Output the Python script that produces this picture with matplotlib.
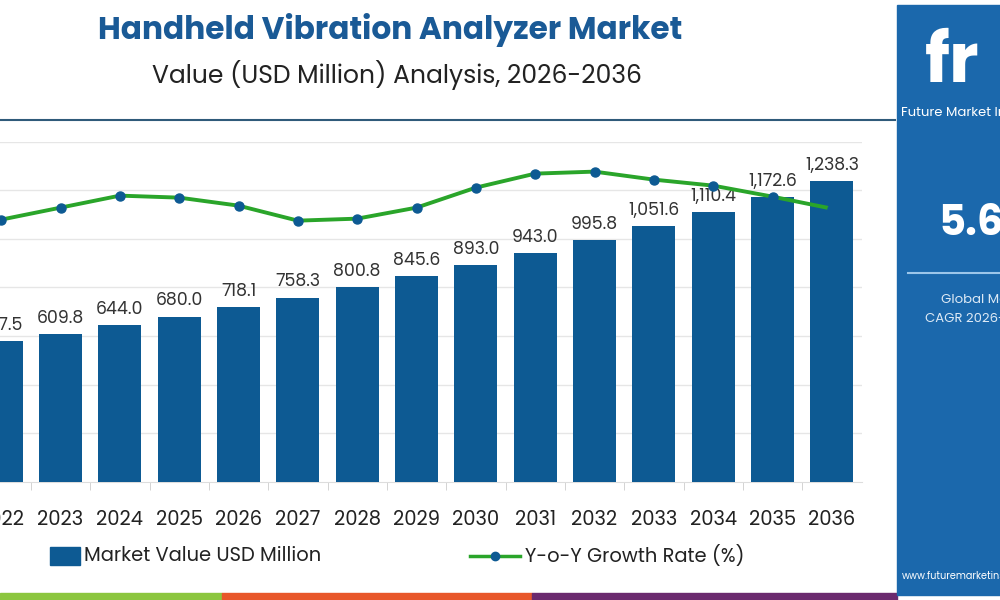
import matplotlib
matplotlib.use("Agg")
import matplotlib.pyplot as plt
from matplotlib.patches import Rectangle

years = [2022, 2023, 2024, 2025, 2026, 2027, 2028, 2029, 2030, 2031, 2032, 2033, 2034, 2035, 2036]
values = [577.5, 609.8, 644.0, 680.0, 718.1, 758.3, 800.8, 845.6, 893.0, 943.0, 995.8, 1051.6, 1110.4, 1172.6, 1238.3]
labels = ["577.5", "609.8", "644.0", "680.0", "718.1", "758.3", "800.8", "845.6", "893.0", "943.0",
          "995.8", "1,051.6", "1,110.4", "1,172.6", "1,238.3"]
growth = [5.40, 5.52, 5.64, 5.62, 5.54, 5.39, 5.41, 5.52, 5.72, 5.86, 5.88, 5.80, 5.74, 5.63, 5.51]

plt.rcParams['font.family'] = ['Poppins', 'Open Sans', 'DejaVu Sans']
fig = plt.figure(figsize=(10, 6), dpi=100)
fig.patch.set_facecolor('white')

BLUE = '#0d5a93'
ax = fig.add_axes([-0.0285, 0.197, 0.890, 0.567])
ax.bar(years, values, width=0.72, color=BLUE, zorder=3)
for x, v, l in zip(years, values, labels):
    ax.text(x, v + 25, l, ha='center', va='bottom', fontsize=12.5, color='#333333', zorder=5)
ax.set_ylim(0, 1400)
ax.set_xlim(2021.5, 2036.5)
ax.set_yticks(range(200, 1401, 200))
ax.yaxis.grid(True, color='#e6e6e6', lw=1, zorder=0)
ax.tick_params(axis='y', left=False, labelleft=False)
ax.set_xticks(years)
ax.set_xticklabels([str(y) for y in years], fontsize=14, color='#222222')
ax.set_xticks([y + 0.5 for y in years[:-1]], minor=True)
ax.tick_params(axis='x', which='major', length=0, pad=20)
ax.tick_params(axis='x', which='minor', length=6, color='#cccccc')
for s in ax.spines.values():
    s.set_visible(False)
ax.spines['bottom'].set_visible(True)
ax.spines['bottom'].set_color('#dddddd')

ax2 = ax.twinx()
ax2.plot(years, growth, color='#2aa52a', lw=2.8, marker='o', ms=6.5,
         markerfacecolor=BLUE, markeredgecolor=BLUE, zorder=4)
ax2.set_ylim(2.78, 6.18)
ax2.axis('off')

# titles
fig.text(0.39, 0.95, "Handheld Vibration Analyzer Market", ha='center', va='center',
         fontsize=22.5, fontweight='bold', color='#1a5a96')
fig.text(0.397, 0.875, "Value (USD Million) Analysis, 2026-2036", ha='center', va='center',
         fontsize=18, color='#222222')
fig.add_artist(plt.Line2D([0, 0.895], [0.80, 0.80], color='#2f5a7a', lw=1.5))

# legend
fig.add_artist(Rectangle((0.05, 0.058), 0.03, 0.03, color=BLUE, transform=fig.transFigure))
fig.text(0.084, 0.073, "Market Value USD Million", va='center', fontsize=14, color='#222222')
fig.add_artist(plt.Line2D([0.47, 0.52], [0.073, 0.073], color='#2aa52a', lw=2.5))
fig.add_artist(plt.Line2D([0.495], [0.073], marker='o', ms=6, color=BLUE))
fig.text(0.525, 0.073, "Y-o-Y Growth Rate (%)", va='center', fontsize=14, color='#222222')

# bottom stripes
fig.add_artist(Rectangle((0, 0), 0.222, 0.012, color='#8cc63f', transform=fig.transFigure))
fig.add_artist(Rectangle((0.222, 0), 0.31, 0.012, color='#e8572a', transform=fig.transFigure))
fig.add_artist(Rectangle((0.532, 0), 0.365, 0.012, color='#6b2a6e', transform=fig.transFigure))

# right panel
fig.add_artist(Rectangle((0.897, 0.008), 0.103, 0.984, color='#1b68ac', transform=fig.transFigure))
fig.text(0.925, 0.89, "fr", fontsize=50, fontweight='bold', color='white', va='center')
fig.text(0.901, 0.812, "Future Market Insights", fontsize=9.5, color='white', va='center')
fig.text(0.938, 0.625, "5.6%", fontsize=30, fontweight='bold', color='white', va='center')
fig.add_artist(plt.Line2D([0.908, 1.0], [0.545, 0.545], color='#9cc6ea', lw=1.5))
fig.text(0.941, 0.50, "Global Market", fontsize=9.5, color='#dce9f5', va='center')
fig.text(0.925, 0.468, "CAGR 2026-2036", fontsize=9.5, color='#dce9f5', va='center')
fig.text(0.902, 0.04, "www.futuremarketinsights.com", fontsize=7, color='white', va='center')

fig.savefig("out.png", dpi=100)
